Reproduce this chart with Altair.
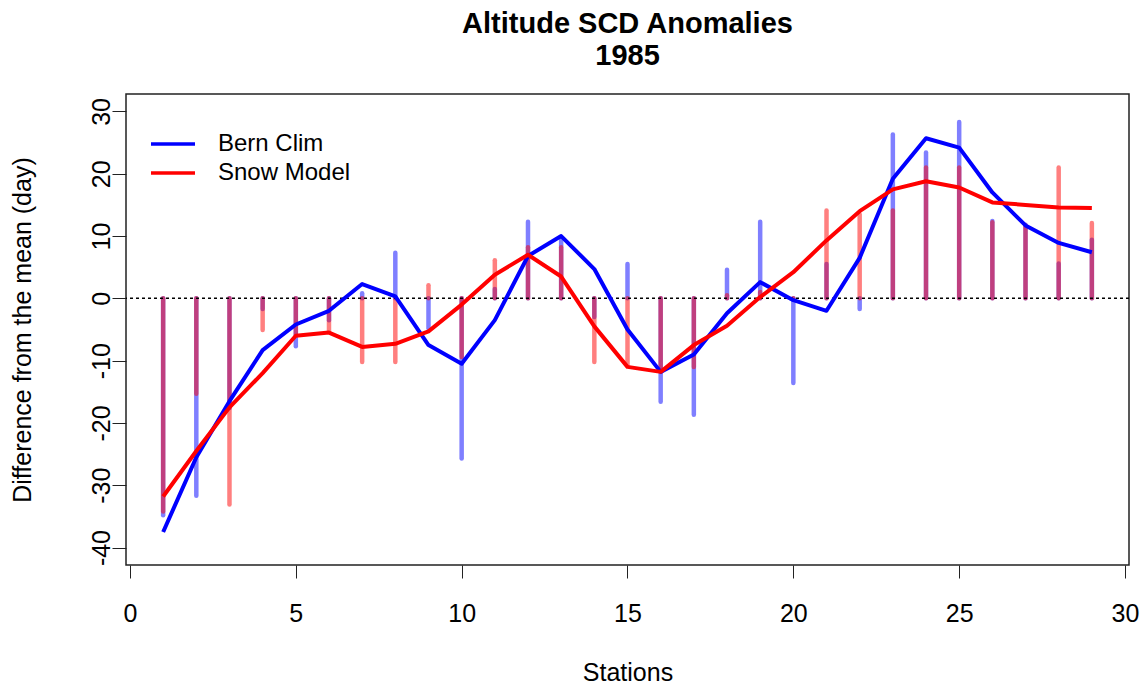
import altair as alt
import pandas as pd

stations = list(range(1, 30))

# Bars: station anomalies
bern_bars = [-34.8, -31.7, -17.6, -1.7, -7.7, -3.5, 0.8, 7.3, -4.8, -25.7,
             1.5, 12.3, 9.8, -3.0, 5.5, -16.6, -18.7, 4.6, 12.3, -13.6,
             5.5, -1.7, 26.3, 23.4, 28.3, 12.4, 11.8, 5.6, 9.4]
snow_bars = [-34.2, -15.3, -33.1, -5.1, -5.9, -5.3, -10.2, -10.2, 2.1, -9.4,
             6.1, 8.2, 8.2, -10.2, -10.7, -11.5, -11.0, 0.5, 1.0, 0.0,
             14.1, 13.5, 14.1, 21.0, 21.0, 12.2, 11.7, 21.0, 12.1]

# Smoothed lines
bern_line = [-37.5, -25.5, -16.5, -8.3, -4.2, -2.0, 2.3, 0.3, -7.5, -10.5,
             -3.5, 6.8, 10.0, 4.7, -5.0, -11.8, -9.0, -2.4, 2.6, -0.3,
             -2.0, 6.5, 19.2, 25.7, 24.2, 17.0, 11.7, 8.9, 7.4]
snow_line = [-31.8, -24.5, -17.5, -12.0, -6.0, -5.5, -7.8, -7.3, -5.3, -1.0,
             3.8, 7.0, 3.5, -4.5, -11.0, -11.8, -7.5, -4.4, 0.2, 4.2,
             9.3, 14.0, 17.5, 18.8, 17.8, 15.4, 15.0, 14.6, 14.5]

series_names = ["Bern Clim", "Snow Model"]
x_ticks = [0, 5, 10, 15, 20, 25, 30]
y_ticks = [-40, -30, -20, -10, 0, 10, 20, 30]

FONT = "Liberation Sans"

bars_df = pd.DataFrame({"station": stations, "zero": [0.0] * len(stations),
                        "bern": bern_bars, "snow": snow_bars})
zero_df = pd.DataFrame({"y": [0.0]})
lines_df = pd.DataFrame({
    "station": stations * 2,
    "value": bern_line + snow_line,
    "series": [series_names[0]] * len(stations) + [series_names[1]] * len(stations),
})

xscale = alt.Scale(domain=[-0.12, 30.12], nice=False, zero=False)
yscale = alt.Scale(domain=[-42.8, 32.8], nice=False, zero=False)

xaxis = alt.Axis(values=x_ticks, title="Stations", grid=False, domain=False,
                 tickSize=13, tickColor="#222", labelFontSize=25, labelFont=FONT,
                 labelColor="black", labelPadding=23, labelFlush=False,
                 labelExpr="'' + datum.value",
                 titleFontSize=25, titleFont=FONT, titleFontWeight="normal",
                 titleColor="black", titleBaseline="middle", titleY=107)
yaxis = alt.Axis(values=y_ticks, title="Difference from the mean (day)", grid=False,
                 domain=False, tickSize=14, tickColor="#222", labelFontSize=25,
                 labelFont=FONT, labelColor="black", labelAngle=270,
                 labelAlign="center", labelBaseline="bottom", labelPadding=-2,
                 labelFlush=False, labelExpr="'' + datum.value",
                 titleFontSize=25, titleFont=FONT, titleFontWeight="normal",
                 titleColor="black", titleBaseline="middle", titleX=-104)

base_bars = alt.Chart(bars_df)
blue_bars = base_bars.mark_rule(strokeWidth=4.5, color="#0000FF", opacity=0.5,
                                strokeCap="round").encode(
    x=alt.X("station:Q", scale=xscale, axis=xaxis),
    y=alt.Y("zero:Q", scale=yscale, axis=yaxis),
    y2=alt.Y2("bern:Q"),
)
red_bars = base_bars.mark_rule(strokeWidth=4.5, color="#FF0000", opacity=0.5,
                               strokeCap="round").encode(
    x=alt.X("station:Q", scale=xscale),
    y=alt.Y("zero:Q", scale=yscale),
    y2=alt.Y2("snow:Q"),
)

zero_line = alt.Chart(zero_df).mark_rule(color="black", strokeWidth=1.5,
                                         strokeDash=[3, 3]).encode(
    y=alt.Y("y:Q", scale=yscale),
)

lines = alt.Chart(lines_df).mark_line(strokeWidth=4, strokeJoin="round").encode(
    x=alt.X("station:Q", scale=xscale),
    y=alt.Y("value:Q", scale=yscale),
    color=alt.Color("series:N",
                    scale=alt.Scale(domain=series_names, range=["#0000FF", "#FF0000"]),
                    sort=series_names,
                    legend=alt.Legend(title=None, orient="none", legendX=35, legendY=38,
                                      symbolType="M-2.2,0H2.2", symbolSize=400,
                                      symbolStrokeWidth=3.5, labelFontSize=24,
                                      labelFont=FONT, labelColor="black",
                                      labelOffset=33, rowPadding=5)),
)

chart = alt.layer(blue_bars, red_bars, zero_line, lines).properties(
    width=1003,
    height=471,
    background="white",
    title=alt.TitleParams(text=["Altitude SCD Anomalies", "1985"], fontSize=29,
                          font=FONT, fontWeight="bold", color="black",
                          anchor="middle", baseline="alphabetic", lineHeight=32,
                          offset=0),
    autosize=alt.AutoSizeParams(type="none"),
    padding={"left": 126, "top": 94, "right": 12, "bottom": 121},
).configure_view(stroke="#222", strokeWidth=1.5)

chart.save("out.html", embed_options={"renderer": "svg", "actions": False})
